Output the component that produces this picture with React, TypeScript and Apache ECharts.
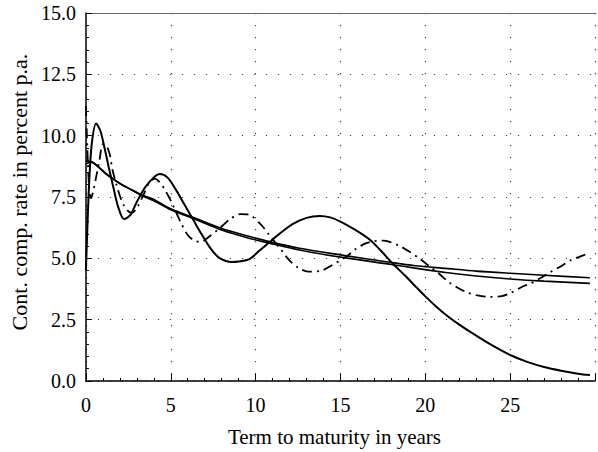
import React, { useEffect, useRef } from "react";
import * as echarts from "echarts";

// Smooth curve A (ends higher)
const tA = [0, 0.3, 0.7, 1.2, 2, 2.7, 3.3, 4, 5, 6.4, 8, 9.6, 10.8, 12.5, 15, 18, 19.4, 21.2, 23, 25, 27, 29.7];
const vA = [8.85, 8.92, 8.75, 8.45, 8.05, 7.8, 7.58, 7.4, 7.02, 6.65, 6.22, 5.9, 5.68, 5.42, 5.14, 4.83, 4.7, 4.59, 4.48, 4.39, 4.31, 4.21];

// Smooth curve B (ends lower)
const tB = [0, 0.3, 0.7, 1.2, 2, 2.7, 3.3, 4, 5, 6.4, 8, 9.6, 10.8, 12.5, 15, 18, 19.4, 21.2, 23, 25, 27, 29.7];
const vB = [8.95, 8.95, 8.75, 8.42, 8.05, 7.78, 7.55, 7.35, 6.98, 6.6, 6.15, 5.82, 5.62, 5.35, 5.05, 4.75, 4.6, 4.42, 4.28, 4.16, 4.07, 3.98];

// Oscillating solid curve C
const tC = [0, 0.1, 0.2, 0.35, 0.6, 0.85, 1.1, 1.35, 1.6, 1.9, 2.25, 2.6, 3.0, 3.5, 4.0, 4.36, 4.8, 5.3, 5.8, 6.3, 6.8, 7.3, 7.8, 8.3, 8.6, 9.0, 9.64, 10.2, 10.8, 11.5, 12.2, 13.0, 13.78, 14.4, 15.0, 15.9, 16.75, 17.4, 18.1, 18.8, 19.44, 20.0, 20.7, 21.36, 22, 23, 24, 25, 26, 27, 28, 29, 29.7];
const vC = [4.5, 6.5, 8.2, 9.7, 10.5, 10.2, 9.5, 8.7, 7.95, 7.1, 6.6, 6.75, 7.3, 7.9, 8.3, 8.44, 8.3, 7.8, 7.2, 6.6, 6.0, 5.45, 5.05, 4.88, 4.85, 4.87, 4.97, 5.3, 5.65, 6.05, 6.4, 6.65, 6.73, 6.67, 6.5, 6.15, 5.75, 5.3, 4.77, 4.3, 3.84, 3.45, 3.0, 2.62, 2.3, 1.85, 1.43, 1.06, 0.78, 0.57, 0.42, 0.3, 0.24];

// Dash-dot curve D
const tD = [0, 0.1, 0.2, 0.3, 0.45, 0.6, 0.8, 1.0, 1.2, 1.4, 1.57, 1.8, 2.0, 2.2, 2.45, 2.7, 3.0, 3.4, 3.75, 4.05, 4.35, 4.65, 5.0, 5.3, 5.6, 6.0, 6.4, 6.8, 7.2, 7.9, 8.5, 9.1, 9.6, 10.3, 10.75, 11.5, 11.95, 12.5, 13.1, 13.8, 14.45, 15.4, 15.9, 16.45, 17.0, 17.5, 17.9, 18.5, 19.05, 19.7, 20.2, 20.8, 21.35, 21.9, 22.5, 23.0, 23.8, 24.5, 25.0, 25.8, 26.2, 26.8, 27.4, 28.0, 28.6, 29.35, 29.7];
const vD = [11.2, 9.2, 7.8, 7.45, 7.8, 8.3, 9.0, 9.65, 9.6, 9.25, 8.6, 8.0, 7.55, 7.2, 6.95, 6.85, 7.05, 7.6, 8.1, 8.25, 8.1, 7.8, 7.35, 6.9, 6.45, 5.95, 5.72, 5.68, 5.85, 6.24, 6.6, 6.8, 6.78, 6.38, 6.0, 5.35, 4.95, 4.62, 4.46, 4.48, 4.7, 5.1, 5.38, 5.6, 5.7, 5.72, 5.67, 5.5, 5.28, 4.97, 4.7, 4.38, 4.05, 3.8, 3.6, 3.5, 3.43, 3.46, 3.58, 3.87, 3.97, 4.2, 4.45, 4.68, 4.93, 5.13, 5.25];

const xTicks = [0, 5, 10, 15, 20, 25];
const yTicks = [0, 2.5, 5, 7.5, 10, 12.5, 15];

const xAxisTitle = "Term to maturity in years";
const yAxisTitle = "Cont. comp. rate in percent p.a.";

const zip = (t: number[], v: number[]) => t.map((x, i) => [x, v[i]]);

const FONT = "'Liberation Serif', 'Times New Roman', serif";

export default function App() {
  const ref = useRef<HTMLDivElement>(null);
  useEffect(() => {
    document.body.style.margin = "0";
    const chart = echarts.init(ref.current!, undefined, { renderer: "svg" });
    const dotted = { color: "#444", width: 1.2, type: [1.2, 10.8] as any };
    const line = (name: string, data: number[][], width: number, type: any) => ({
      name,
      type: "line",
      data,
      smooth: 0.3,
      showSymbol: false,
      symbol: "none",
      clip: true,
      lineStyle: { color: "#000", width, type },
    });
    chart.setOption({
      animation: false,
      backgroundColor: "#fff",
      grid: { left: 83, top: 13, bottom: 71, right: -5.5, containLabel: false },
      xAxis: [
        {
          type: "value",
          min: 0,
          max: 30,
          interval: 5,
          name: xAxisTitle,
          nameLocation: "middle",
          nameGap: 45,
          nameTextStyle: { fontFamily: FONT, fontSize: 21, color: "#000", padding: [0, 12, 0, 0] },
          axisLine: { show: true, lineStyle: { color: "#000", width: 1.5 } },
          axisTick: { show: true, inside: true, length: 7, lineStyle: { color: "#000" } },
          minorTick: { show: true, splitNumber: 5, length: 3, lineStyle: { color: "#000" } },
          axisLabel: {
            fontFamily: FONT,
            fontSize: 20,
            color: "#000",
            margin: 14,
            formatter: (v: number) => (xTicks.includes(v) ? String(v) : ""),
          },
          splitLine: { show: true, lineStyle: dotted },
        },
        {
          type: "value",
          position: "top",
          min: 0,
          max: 30,
          interval: 5,
          axisLine: { show: true, lineStyle: { color: "#666", width: 1 } },
          axisTick: { show: false },
          axisLabel: { show: false },
          splitLine: { show: false },
        },
      ],
      yAxis: {
        type: "value",
        min: 0,
        max: 15,
        interval: 2.5,
        name: yAxisTitle,
        nameLocation: "middle",
        nameGap: 54,
        nameTextStyle: { fontFamily: FONT, fontSize: 22, color: "#000", padding: [0, 0, 0, 10] },
        axisLine: { show: true, lineStyle: { color: "#000", width: 1.5 } },
        axisTick: { show: true, inside: true, length: 6, lineStyle: { color: "#000" } },
        minorTick: { show: true, splitNumber: 5, length: 3, lineStyle: { color: "#000" } },
        axisLabel: {
          fontFamily: FONT,
          fontSize: 20,
          color: "#000",
          margin: 10,
          formatter: (v: number) => (yTicks.includes(v) ? v.toFixed(1) : ""),
        },
        splitLine: { show: true, lineStyle: dotted },
      },
      series: [
        line("A", zip(tA, vA), 1.6, "solid"),
        line("B", zip(tB, vB), 1.6, "solid"),
        line("C", zip(tC, vC), 2, "solid"),
        line("D", zip(tD, vD), 1.8, [10, 5, 2, 5]),
      ],
    });
    return () => chart.dispose();
  }, []);
  return <div ref={ref} style={{ width: 598, height: 452 }} />;
}
